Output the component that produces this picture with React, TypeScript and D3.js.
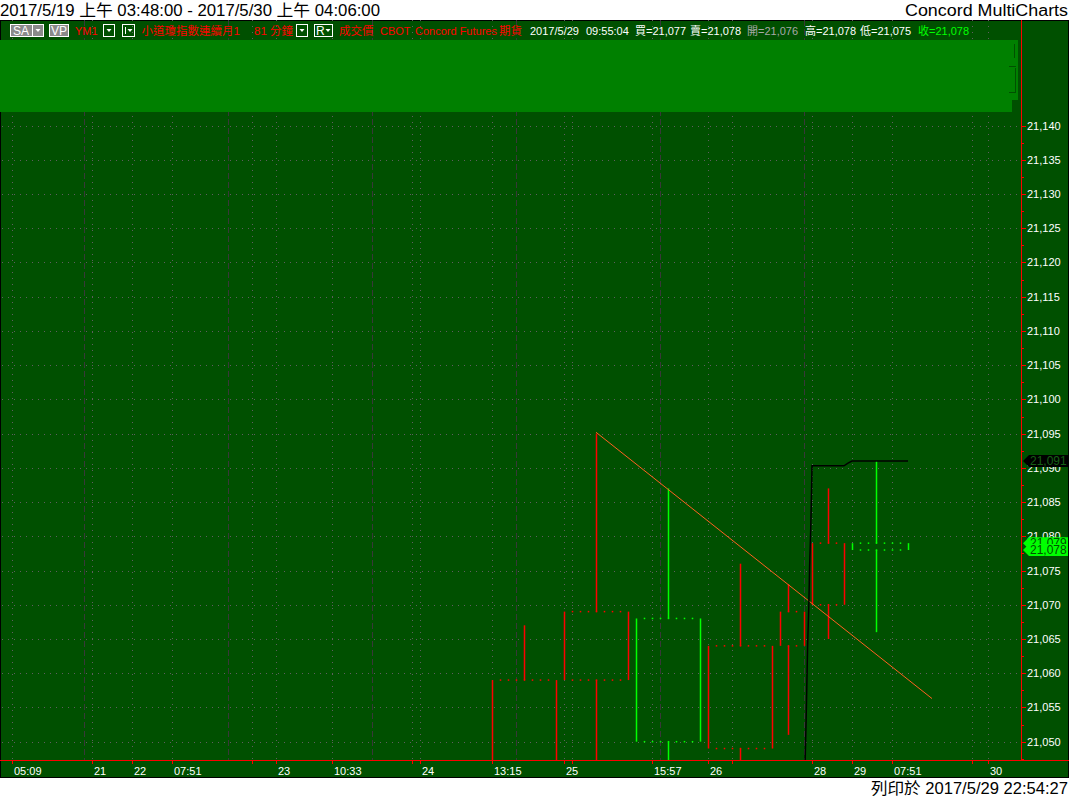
import React, { useEffect } from "react";
import * as d3 from "d3";

// ---------- data ----------
// x values are bar-slot positions on the chart's index axis
const candleStart = [12.0, 13.8, 15.6, 17.4, 19.2, 20.0, 21.0];
const candleEnd = [13.6, 15.4, 17.2, 19.0, 19.8, 20.8, 22.4];
const candleMid = [12.8, 14.6, 16.4, 18.2, 19.4, 20.4, 21.6];
const candleOpen = [21042, 21059, 21068, 21049, 21064, 21070, 21079];
const candleClose = [21059, 21069, 21050, 21064, 21069, 21079, 21078];
const candleHigh = [21067, 21095, 21087, 21076, 21073, 21087, 21091];
const candleLow = [21035, 21040, 21040, 21044, 21051, 21065, 21066];

const blackX = [19.82, 19.85, 19.87, 19.89, 19.92, 19.94, 19.97, 19.99, 20.0, 20.8, 20.9, 21.0, 22.4];
const blackY = [21045, 21052.4, 21058, 21063.9, 21069.7, 21075.6, 21081.4, 21087.2, 21090.3, 21090.3, 21090.7, 21091, 21091];

const trendX = [14.6, 23.0];
const trendY = [21095.2, 21056.3];

const xGrid = [0, 2, 3, 4, 6, 6.6, 8, 10, 10.2, 12, 13.8, 14, 16, 17.4, 18, 20, 21, 22, 24, 24.4];
const xLabelPos = [0, 2, 3, 4, 6.6, 8, 10.2, 12, 13.8, 16, 17.4, 20, 21, 22, 24.4];
const xLabelText = ["05:09", "21", "22", "07:51", "23", "10:33", "24", "13:15", "25", "15:57", "26", "28", "29", "07:51", "30"];
const sessionBreaks = [1.8, 5.4, 9.0, 12.6, 16.2, 19.8];

const yTickValues = [21050, 21055, 21060, 21065, 21070, 21075, 21080, 21085, 21090, 21095, 21100, 21105, 21110, 21115, 21120, 21125, 21130, 21135, 21140];
const yMinorValues = [21047.5, 21052.5, 21057.5, 21062.5, 21067.5, 21072.5, 21077.5, 21082.5, 21087.5, 21092.5, 21097.5, 21102.5, 21107.5, 21112.5, 21117.5, 21122.5, 21127.5, 21132.5, 21137.5];

const lastBlack = 21091;
const priceMarkers = [21079, 21078];

const titleText = "2017/5/19 上午 03:48:00 - 2017/5/30 上午 04:06:00";
const brandText = "Concord MultiCharts";
const footerText = "列印於 2017/5/29 22:54:27";

// ---------- layout ----------
const W = 1070;
const H = 796;
const PL = 2, PR = 1021, PT = 20, PB = 761;
const RED = "#ff0000";
const GREEN = "#00ff00";
const BG = "#005000";
const FONT = "'Liberation Sans', Arial, 'Noto Sans CJK TC', sans-serif";

const xScale = d3.scaleLinear().domain([-0.25, 25.225]).range([PL, PR]);
const yScale = d3.scaleLinear().domain([21047.18, 21141.98]).range([PB, 112]);

const fmt = d3.format(",");
const px = (v: number) => Math.round(v) + 0.5;

function Tri({ cx, cy, fill = "#fff" }: { cx: number; cy: number; fill?: string }) {
  return <polygon points={`${cx - 2.5},${cy - 1.5} ${cx + 2.5},${cy - 1.5} ${cx},${cy + 1.5}`} fill={fill} />;
}

function Marker({ v, fill, textFill }: { v: number; fill: string; textFill: string }) {
  const y = yScale(v);
  const d = `M1023,${y} L1029,${y - 6} L1068,${y - 6} L1068,${y + 6} L1029,${y + 6} Z`;
  return (
    <g>
      <path d={d} fill={fill} />
      <text x={1030} y={y} dominantBaseline="central" fontSize={12} fontFamily={FONT} fill={textFill}>
        {fmt(v)}
      </text>
    </g>
  );
}

export default function App() {
  useEffect(() => {
    document.body.style.margin = "0";
  }, []);

  const blackLine = d3
    .line<number>()
    .x((_, i) => xScale(blackX[i]))
    .y((d) => yScale(d))(blackY) as string;

  const trendLine = d3
    .line<number>()
    .x((_, i) => xScale(trendX[i]))
    .y((d) => yScale(d))(trendY) as string;

  const candles = candleStart.map((s, i) => {
    const o = candleOpen[i], c = candleClose[i];
    const color = c >= o ? RED : GREEN;
    const x0 = px(xScale(s));
    const x1 = px(xScale(candleEnd[i]));
    const xm = px(xScale(candleMid[i]));
    const yTop = yScale(Math.max(o, c));
    const yBot = yScale(Math.min(o, c));
    const yH = yScale(candleHigh[i]);
    const yL = yScale(candleLow[i]);
    const dots: number[] = [];
    for (let x = x0 + 8; x < x1 - 2; x += 8) dots.push(x);
    return (
      <g key={i} stroke={color} strokeWidth={1.5}>
        <line x1={x0} x2={x0} y1={yTop} y2={yBot} />
        <line x1={x1} x2={x1} y1={yTop} y2={yBot} />
        <line x1={xm} x2={xm} y1={yH} y2={yTop} />
        <line x1={xm} x2={xm} y1={yBot} y2={yL} />
        {dots.map((x) => (
          <g key={x} stroke="none" fill={color}>
            <rect x={x - 0.75} y={yTop - 0.75} width={1.5} height={1.5} />
            <rect x={x - 0.75} y={yBot - 0.75} width={1.5} height={1.5} />
          </g>
        ))}
      </g>
    );
  });

  return (
    <svg width={W} height={H} style={{ display: "block" }} xmlns="http://www.w3.org/2000/svg">
      <rect x={0} y={0} width={W} height={H} fill="#ffffff" />
      {/* title */}
      <text x={0} y={16} fontSize={16} fontFamily={FONT} fill="#000" textLength={380} lengthAdjust="spacingAndGlyphs">{titleText}</text>
      <text x={905} y={16} fontSize={16} fontFamily={FONT} fill="#000" textLength={163} lengthAdjust="spacingAndGlyphs">{brandText}</text>

      {/* frame */}
      <rect x={0.5} y={20.5} width={1068} height={757} fill={BG} stroke="#000" />

      <defs>
        <clipPath id="plotClip">
          <rect x={PL} y={PT} width={PR - PL} height={PB - PT} />
        </clipPath>
      </defs>

      {/* gridlines */}
      <g shapeRendering="crispEdges">
        {yTickValues.map((v) => (
          <line key={v} x1={PL} x2={PR} y1={px(yScale(v))} y2={px(yScale(v))} stroke="#5e5e5e" strokeDasharray="1,5" />
        ))}
        {xGrid.map((g) => (
          <line key={g} x1={px(xScale(g))} x2={px(xScale(g))} y1={PT} y2={PB} stroke="#5e5e5e" strokeDasharray="1,5" />
        ))}
        {sessionBreaks.map((g) => (
          <line key={g} x1={px(xScale(g))} x2={px(xScale(g))} y1={PT} y2={PB} stroke="#383838" strokeWidth={1.5} strokeDasharray="6,3" />
        ))}
      </g>

      {/* series */}
      <g clipPath="url(#plotClip)">
        {candles}
        <path d={trendLine} fill="none" stroke="#ff6020" strokeWidth={1} />
        <path d={blackLine} fill="none" stroke="#000" strokeWidth={1.5} />
      </g>

      {/* top overlay panel */}
      <rect x={0} y={40} width={1012} height={72} fill="#008000" />
      <rect x={1011} y={40} width={7} height={60} fill="#008000" />
      <g stroke={BG} strokeWidth={1} shapeRendering="crispEdges">
        <line x1={1015.5} x2={1015.5} y1={68} y2={92} />
        <line x1={1009} x2={1016} y1={66.5} y2={66.5} />
        <line x1={1009} x2={1016} y1={92.5} y2={92.5} />
        <line x1={1014.5} x2={1014.5} y1={44} y2={58} />
      </g>

      {/* legend row */}
      <g fontFamily={FONT} fontSize={11}>
        <rect x={10.5} y={24.5} width={33} height={12} fill="#8a8a8a" stroke="#fff" />
        <line x1={32.5} x2={32.5} y1={24.5} y2={36.5} stroke="#fff" />
        <text x={13} y={35} fill="#fff" fontSize={12}>SA</text>
        <Tri cx={38} cy={30.5} />
        <rect x={49.5} y={24.5} width={19} height={12} fill="#8a8a8a" stroke="#fff" />
        <text x={51} y={35} fill="#fff" fontSize={12}>VP</text>
        <text x={75} y={35} fill={RED}>YM1</text>
        <rect x={103.5} y={24.5} width={11} height={12} fill="none" stroke="#fff" />
        <Tri cx={109} cy={30.5} />
        <rect x={122.5} y={24.5} width={12} height={12} fill="none" stroke="#fff" />
        <line x1={125.5} x2={125.5} y1={27} y2={34} stroke="#fff" />
        <Tri cx={130} cy={30.5} />
        <text x={141.5} y={35} fill={RED} fontSize={11.5}>小道瓊指數連續月1</text>
        <text x={254} y={35} fill={RED} fontSize={11.5}>81 分鐘</text>
        <rect x={296.5} y={24.5} width={11} height={12} fill="none" stroke="#fff" />
        <Tri cx={302} cy={30.5} />
        <rect x={314.5} y={24.5} width={18} height={12} fill="none" stroke="#fff" />
        <text x={316} y={35} fill="#fff" fontSize={12}>R</text>
        <Tri cx={328} cy={30.5} />
        <text x={339} y={35} fill={RED} fontSize={11.5}>成交價</text>
        <text x={380} y={35} fill={RED}>CBOT</text>
        <text x={415} y={35} fill={RED}>Concord Futures</text>
        <text x={499} y={35} fill={RED} fontSize={11.5}>期貨</text>
        <text x={530} y={35} fill="#fff">2017/5/29</text>
        <text x={586} y={35} fill="#fff">09:55:04</text>
        <text x={635} y={35} fill="#fff">買=21,077</text>
        <text x={690} y={35} fill="#fff">賣=21,078</text>
        <text x={747} y={35} fill="#a8a8a8">開=21,076</text>
        <text x={805} y={35} fill="#fff">高=21,078</text>
        <text x={860} y={35} fill="#fff">低=21,075</text>
        <text x={918} y={35} fill={GREEN}>收=21,078</text>
      </g>

      {/* right axis */}
      <g shapeRendering="crispEdges" stroke={RED}>
        <line x1={PR + 0.5} x2={PR + 0.5} y1={PT} y2={PB} />
        {yTickValues.map((v) => (
          <line key={v} x1={PR} x2={PR + 5} y1={px(yScale(v))} y2={px(yScale(v))} />
        ))}
        {yMinorValues.map((v) => (
          <line key={v} x1={PR} x2={PR + 3} y1={px(yScale(v))} y2={px(yScale(v))} />
        ))}
      </g>
      <g fontFamily={FONT} fontSize={11} fill="#fff">
        {yTickValues.map((v) => (
          <text key={v} x={1027} y={yScale(v)} dominantBaseline="central">{fmt(v)}</text>
        ))}
      </g>
      <Marker v={lastBlack} fill="#000" textFill="#156015" />
      {priceMarkers.map((v) => (
        <Marker key={v} v={v} fill={GREEN} textFill="#005000" />
      ))}

      {/* bottom axis */}
      <g shapeRendering="crispEdges" stroke={RED}>
        <line x1={0} x2={1069} y1={PB - 0.5} y2={PB - 0.5} />
        {xGrid.map((g) => (
          <line key={g} x1={px(xScale(g))} x2={px(xScale(g))} y1={PB} y2={PB + 3} />
        ))}
      </g>
      <g fontFamily={FONT} fontSize={11} fill="#fff">
        {xLabelPos.map((p, i) => (
          <text key={i} x={xScale(p) + 2} y={775}>{xLabelText[i]}</text>
        ))}
      </g>

      {/* footer */}
      <text x={871} y={794} fontSize={16} fontFamily={FONT} fill="#000" textLength={197} lengthAdjust="spacingAndGlyphs">{footerText}</text>
    </svg>
  );
}
